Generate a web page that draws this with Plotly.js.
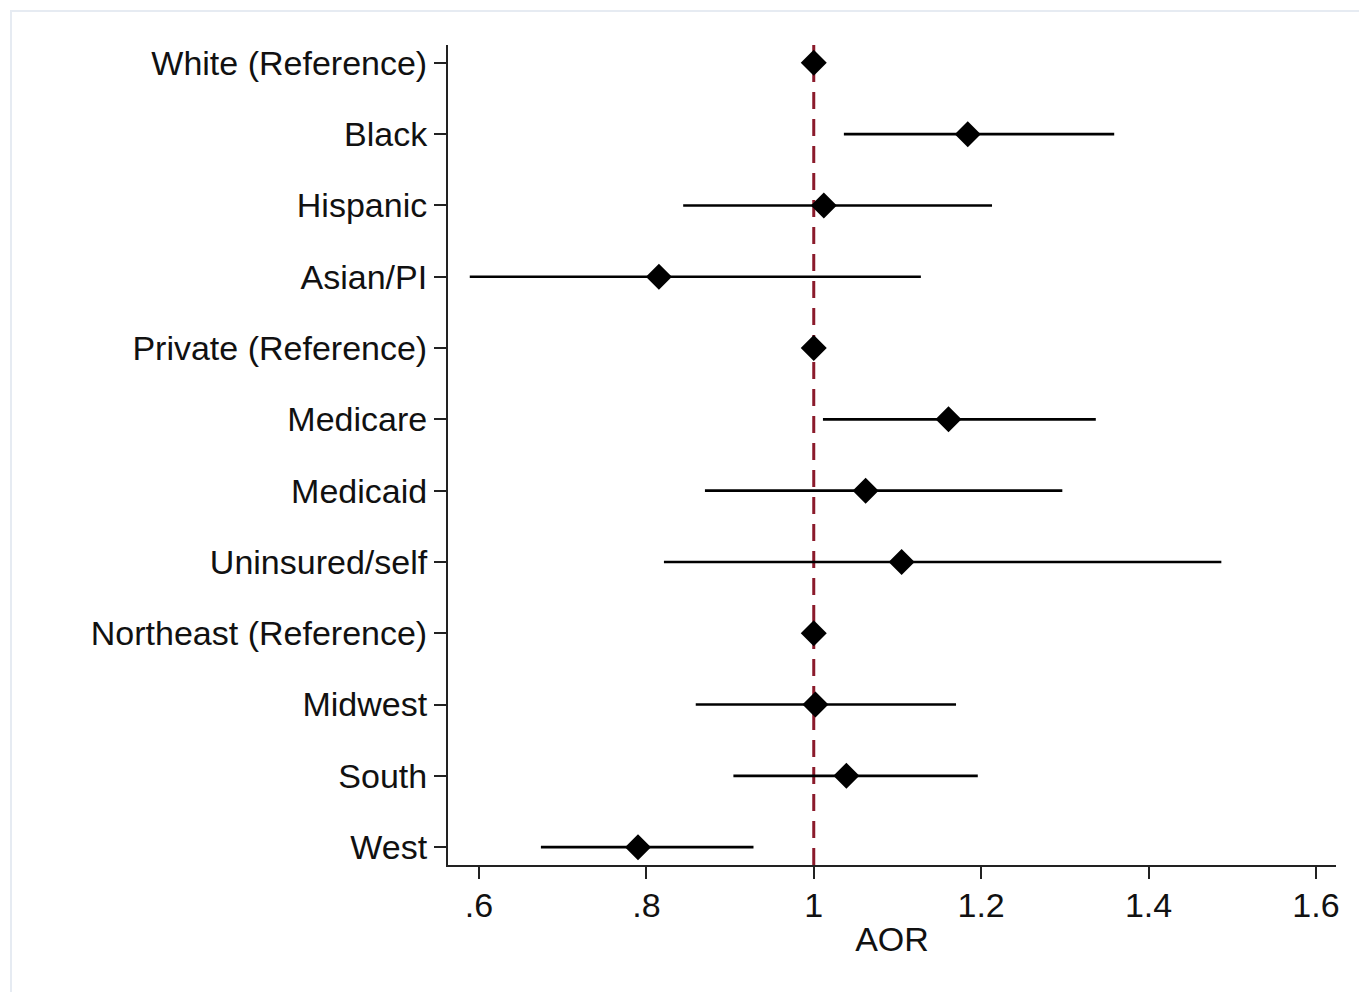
<!DOCTYPE html>
<html>
<head>
<meta charset="utf-8">
<script src="https://cdn.plot.ly/plotly-3.0.1.min.js"></script>
<style>
html,body{margin:0;padding:0;background:#fff;}
#frame{position:absolute;left:10px;top:10px;width:1349px;height:982px;border-top:2px solid #e6ebf2;border-left:2px solid #e6ebf2;}
#chart{position:absolute;left:0;top:0;width:1359px;height:992px;}
</style>
</head>
<body>
<div id="frame"></div>
<div id="chart"></div>
<script>
const categories = ["White (Reference)","Black","Hispanic","Asian/PI","Private (Reference)","Medicare","Medicaid","Uninsured/self","Northeast (Reference)","Midwest","South","West"];
const aor   = [1.000, 1.184, 1.012, 0.815, 1.000, 1.161, 1.062, 1.105, 1.000, 1.002, 1.039, 0.790];
const lower = [1.000, 1.036, 0.844, 0.589, 1.000, 1.011, 0.870, 0.821, 1.000, 0.859, 0.904, 0.674];
const upper = [1.000, 1.359, 1.213, 1.128, 1.000, 1.337, 1.297, 1.487, 1.000, 1.170, 1.196, 0.928];
const xTickVals = [0.6, 0.8, 1.0, 1.2, 1.4, 1.6];
const xTickText = [".6", ".8", "1", "1.2", "1.4", "1.6"];
const refValue = 1;

const plus = aor.map((v,i)=>upper[i]-v);
const minus = aor.map((v,i)=>v-lower[i]);

const font = {family:"Liberation Sans, Arial, sans-serif", size:34, color:"#111"};

const trace = {
  type:"scatter", mode:"markers",
  x: aor, y: categories,
  marker:{symbol:"diamond", size:20, color:"#000"},
  error_x:{type:"data", symmetric:false, array:plus, arrayminus:minus, thickness:2.6, width:0, color:"#000"},
  hoverinfo:"x+y", showlegend:false
};

const layout = {
  width:1359, height:992,
  margin:{l:448, r:23, t:45, b:127},
  paper_bgcolor:"rgba(0,0,0,0)", plot_bgcolor:"rgba(0,0,0,0)",
  font: font,
  xaxis:{
    range:[0.563, 1.624], tickvals:xTickVals, ticktext:xTickText,
    showgrid:false, zeroline:false, showline:true, linecolor:"#222", linewidth:2,
    ticks:"outside", ticklen:12, tickwidth:2, tickcolor:"#222",
    tickfont:font, ticklabelstandoff:-3,
    title:{text:"AOR", font:font, standoff:4}
  },
  yaxis:{
    type:"category", categoryorder:"array", categoryarray:categories,
    range:[11.25, -0.25],
    showgrid:false, zeroline:false, showline:true, linecolor:"#222", linewidth:2,
    ticks:"outside", ticklen:12, tickwidth:2, tickcolor:"#222",
    tickfont:font, ticklabelstandoff:0
  },
  shapes:[{
    type:"line", xref:"x", yref:"paper", x0:refValue, x1:refValue, y0:0, y1:1,
    line:{color:"#8b1a2b", width:3, dash:"17px,10px"}, layer:"below"
  }]
};

Plotly.newPlot("chart", [trace], layout, {displayModeBar:false, staticPlot:true});
</script>
</body>
</html>
